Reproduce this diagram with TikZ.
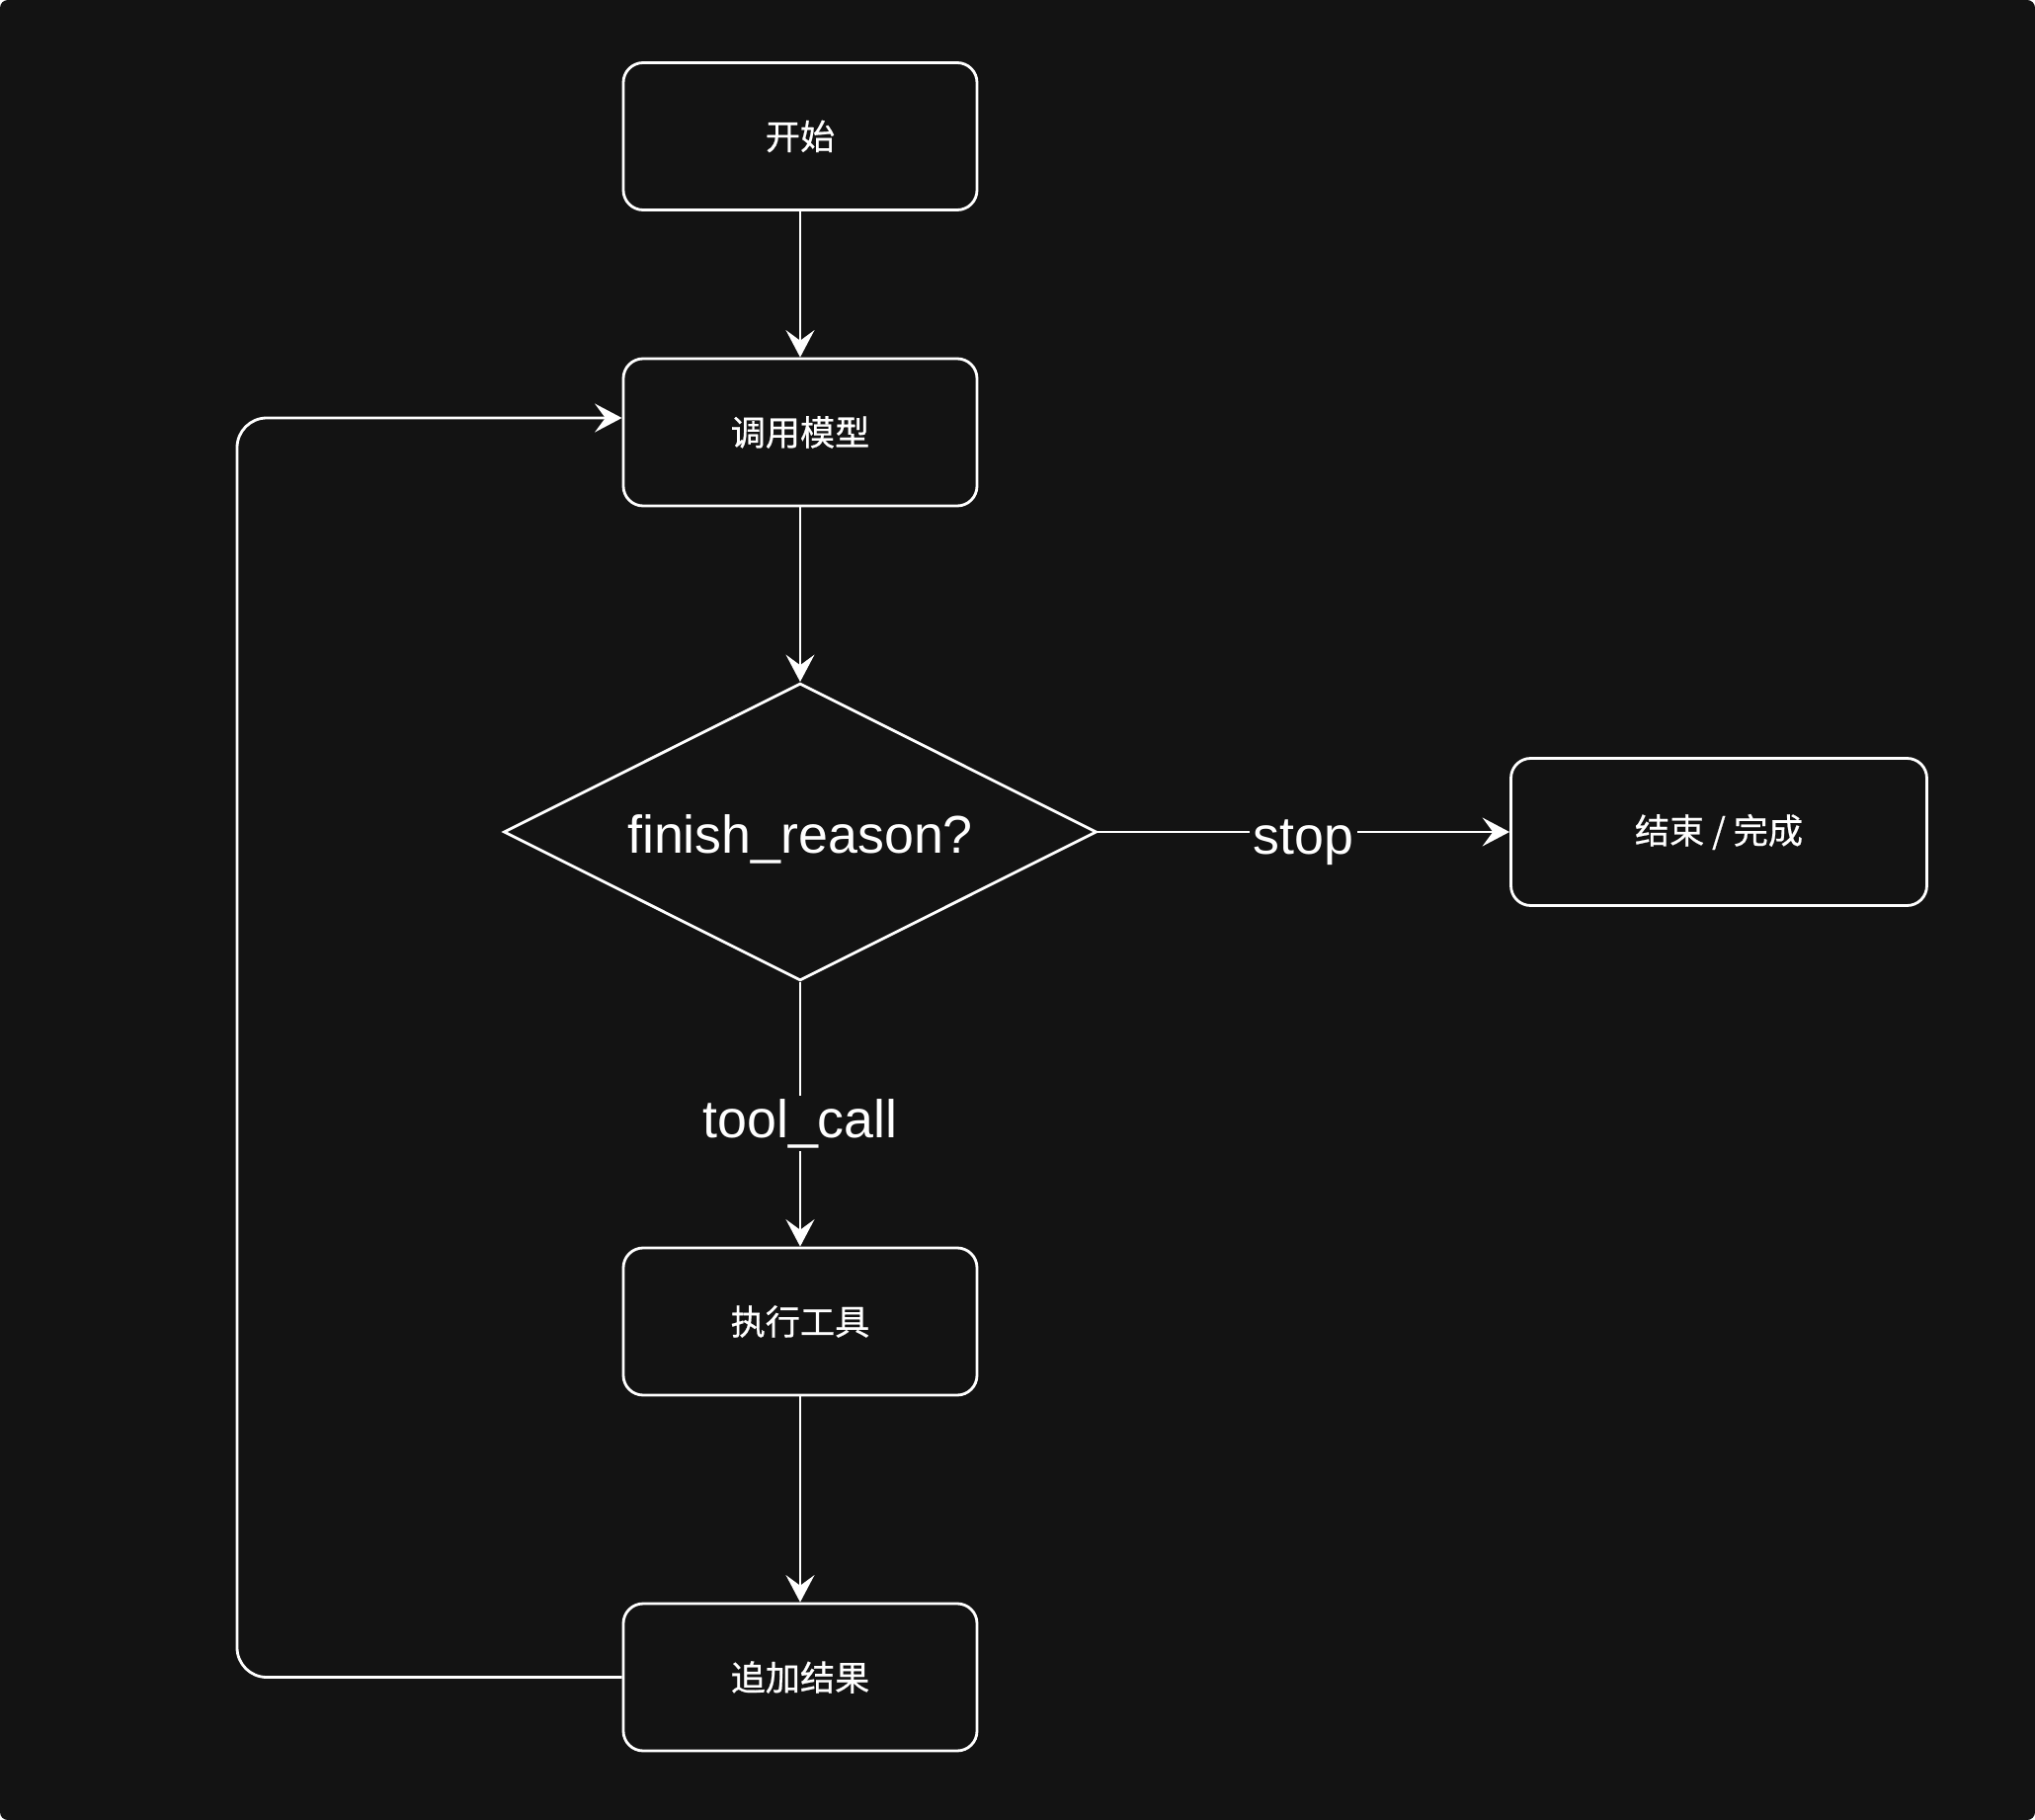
\documentclass[tikz,border=0pt]{standalone}
\usepackage{fontspec}
\setmainfont{Liberation Sans}
\newfontfamily\cjk[FakeBold=0.6]{Noto Sans CJK SC}
\usepackage{tikz}
\usepackage{xcolor}
\usetikzlibrary{arrows.meta,shapes.geometric}
\definecolor{bgdark}{HTML}{131313}

\tikzset{
  box/.style={draw=white,line width=0.8pt,rounded corners=5.7pt,minimum width=3.58cm,minimum height=1.49cm,
    inner sep=0pt,text=white,font=\cjk\fontsize{10}{12}\selectfont},
  decision/.style={draw=white,line width=0.8pt,diamond,shape aspect=2,minimum width=6.0cm,minimum height=3.01cm,
    inner sep=0pt,text=white,font=\fontsize{15.3}{18}\selectfont},
  flow/.style={draw=white,line width=0.8pt,->},
  lbl/.style={fill=bgdark,text=white,inner sep=1pt,font=\fontsize{15.3}{18}\selectfont}
}

\begin{document}
\begin{tikzpicture}[>={Stealth[length=7.8pt,width=8.2pt,inset=3pt]}]
\fill[white](0,0)rectangle(20.6,-18.42);
\fill[bgdark,rounded corners=0.08cm](0,0)rectangle(20.6,-18.42);
\useasboundingbox(0,0)rectangle(20.6,-18.42);
% nodes
\node[box](start) at (8.10,-1.38){开始};
\node[box](model) at (8.10,-4.375){调用模型};
\node[decision](reason) at (8.10,-8.42){\raisebox{-0.07cm}[\height][\depth]{finish\_reason?}};
\node[box,minimum width=4.21cm](done) at (17.40,-8.42){结束 / 完成};
\node[box](runtool) at (8.10,-13.375){执行工具};
\node[box](append) at (8.10,-16.975){追加结果};
\coordinate (back) at (2.40,-4.23);
% connectors
\draw[flow](start)--(model);
\draw[flow](model)--(reason);
\draw[flow](reason)--node[lbl,yshift=-0.11cm]{stop}(done);
\draw[flow](reason)--node[lbl,pos=0.52,yshift=-0.04cm]{tool\_call}(runtool);
\draw[flow](runtool)--(append);
\draw[flow,rounded corners=0.3cm](append.west)-|(back)--([yshift=0.145cm]model.west);
\end{tikzpicture}
\end{document}
